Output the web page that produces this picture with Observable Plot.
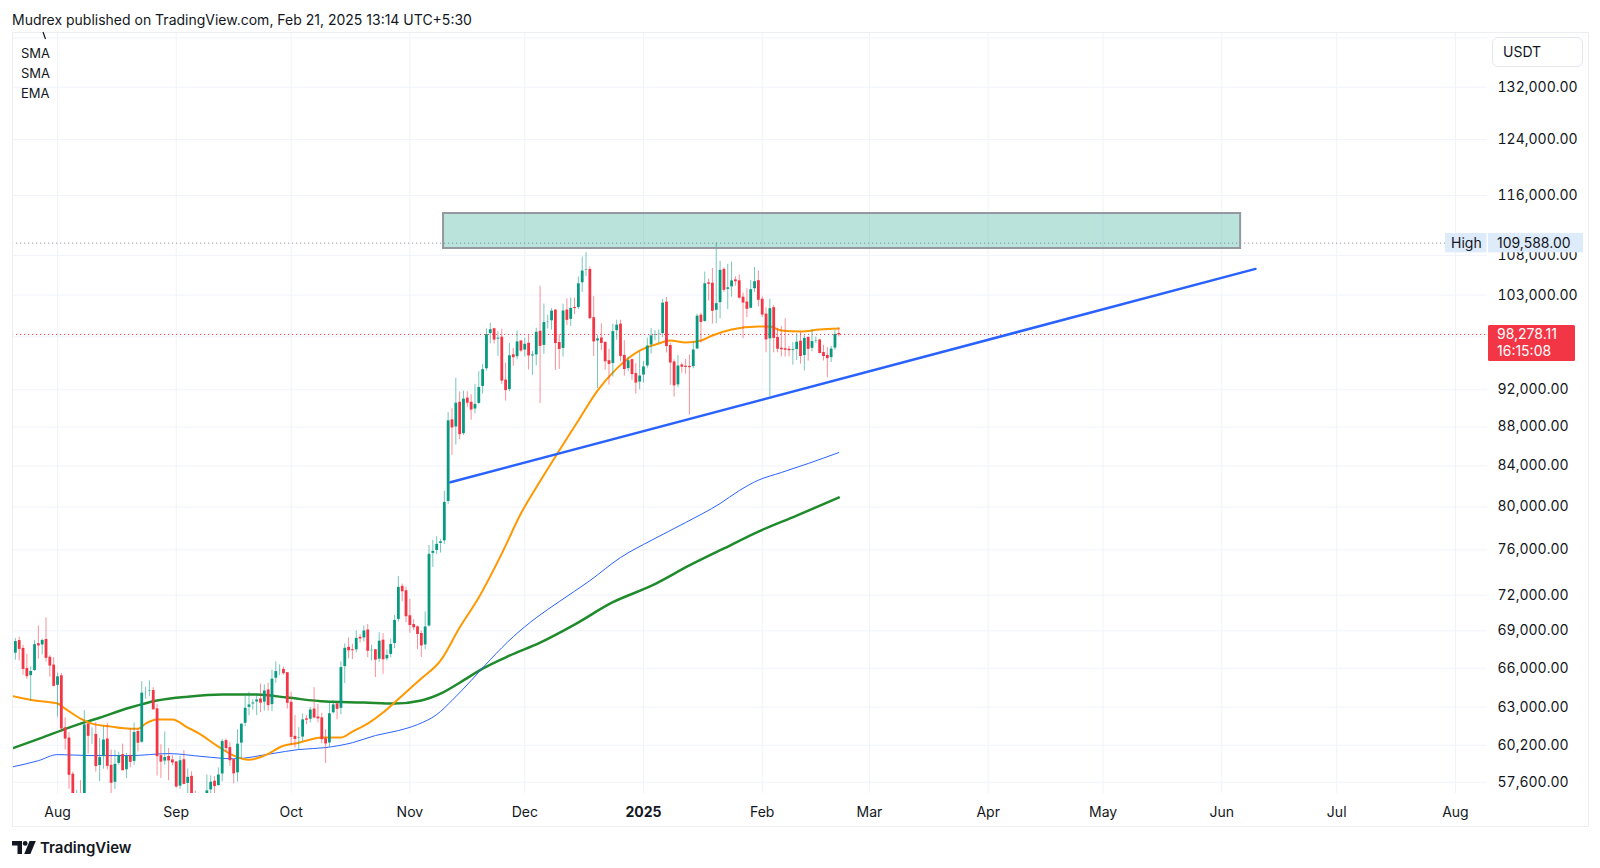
<!DOCTYPE html>
<html><head><meta charset="utf-8">
<script src="https://cdn.jsdelivr.net/npm/d3@7"></script>
<script src="https://cdn.jsdelivr.net/npm/@observablehq/plot@0.6"></script>
<style>
html,body{margin:0;padding:0;background:#fff}
body{width:1600px;height:868px;position:relative;overflow:hidden;font-family:Inter,"Noto Sans",sans-serif;color:#131722}
#title{position:absolute;left:12px;top:11px;font-size:14px;line-height:18px;white-space:nowrap}
#frame{position:absolute;left:12px;top:32px;width:1577px;height:795px;box-sizing:border-box;border:1px solid #eceef2;pointer-events:none}
#chart{position:absolute;left:0;top:32px}
#legend{position:absolute;left:21px;top:43px;font-size:13px;line-height:20px}
#usdt{position:absolute;left:1492px;top:37px;width:91px;height:30px;box-sizing:border-box;border:1px solid #e3e6ec;border-radius:6px;background:#fff;font-size:14px;line-height:28px;padding-left:10px}
#footer{position:absolute;left:12px;top:838px;height:18px;display:flex;align-items:center;gap:4px;font-size:15px;font-weight:600;color:#131722}
#mark{position:absolute;left:40px;top:31px}
</style></head>
<body>
<div id="title">Mudrex published on TradingView.com, Feb 21, 2025 13:14 UTC+5:30</div>
<div id="chart"></div>
<div id="frame"></div>
<svg id="mark" width="10" height="10"><line x1="3" y1="1" x2="5.5" y2="8" stroke="#131722" stroke-width="1.2"/></svg>
<div id="legend"><div>SMA</div><div>SMA</div><div>EMA</div></div>
<div id="usdt">USDT</div>
<div id="footer"><svg width="24" height="13" viewBox="0 0 24 13"><path d="M0 0h10v13H5.5V4.5H0z" fill="#131722"/><circle cx="13.2" cy="2.4" r="2.4" fill="#131722"/><path d="M17.6 0h6.2l-5.4 13h-6.2z" fill="#131722"/></svg><span>TradingView</span></div>
<script>
// ---- Daily candles, 2024-07-20 .. 2025-02-21 (BTC/USDT) ----
const firstDay = "2024-07-20", lastDay = "2025-02-21";
const open = [
/*Jul*/66660,67150,68165,67532,65936,65372,65777,67912,67813,68255,66819,66201,
/*Aug*/64620,65357,61415,60680,58116,53991,56030,55027,61710,60880,60945,58719,59354,60609,58737,57560,58874,59491,58427,59438,59013,61156,60381,64094,64178,64220,62834,59415,59034,59359,59119,
/*Sep*/58973,57301,59132,57487,57970,56160,53962,54160,54869,57042,57635,57338,58132,60498,59993,59132,58213,60313,61759,62947,63201,63348,63578,63339,64262,63152,65173,65769,65858,65602,
/*Oct*/63327,60805,60649,60752,62086,62058,62819,62224,62160,60636,60326,62540,63206,62870,66083,67620,67421,67420,68428,68380,69032,67378,67426,66668,68198,66698,67047,67930,69907,72720,72339,
/*Nov*/70215,69482,69289,68741,67811,69360,75640,75904,76545,76778,80474,88701,87955,90585,87250,91032,90587,89855,90464,92310,94286,98317,98892,97672,97900,93010,91965,95863,95643,97460,
/*Dec*/96407,97185,95840,95849,98587,96945,99740,99831,101109,97276,96593,101125,100005,101424,101420,104463,106058,106133,100204,97461,97805,97291,95186,94881,98663,99430,95791,94299,95301,93738,92792,
/*Jan*/93576,94591,96984,98174,98236,98314,102078,96922,95043,92484,94701,94566,94545,94516,96534,100504,99756,104462,104409,101089,102016,106146,103653,103960,104820,104714,102683,102087,101333,103733,104722,
/*Feb*/102429,100635,97700,101406,97871,96616,96555,96500,96444,96462,97430,95778,97870,96608,97500,97570,96118,95780,95539,96635,98333];
const high = [
/*Jul*/67600,68380,68480,67815,67100,66110,68200,69400,68320,70080,66990,66830,
/*Aug*/65600,65590,62200,61100,58300,57040,57720,62745,61750,61470,61850,60680,61570,61800,59850,59820,59700,60280,59620,61400,61820,61400,64950,64520,65000,64480,63210,60230,61160,59960,59450,
/*Sep*/59050,59420,59810,58520,58330,56990,54850,55320,58090,58040,57990,58590,60620,60660,60380,59210,61320,61790,63850,64130,63560,64000,64750,64690,64820,65840,66500,66260,66080,65620,
/*Oct*/64130,62380,61470,62480,62370,62970,64480,63200,62540,61320,63420,63480,63290,66500,67950,68420,67900,68990,68690,69400,69520,67840,67470,68850,68770,67450,68330,70270,73620,72960,72700,
/*Nov*/71630,69930,69400,69000,70580,76400,76850,77200,76930,81500,89530,89940,93265,91760,91850,91780,91450,92600,94000,94830,98920,99590,99000,98600,98870,94970,97210,96650,98690,97500,
/*Dec*/97840,98150,96300,99000,104088,101900,100550,101350,101215,98270,101890,102540,102650,102650,105250,107790,108353,106530,102800,98150,99540,97400,96540,99500,99960,99960,97540,95680,95450,94900,96250,
/*Jan*/95150,97840,98980,98730,98810,102480,102720,97260,95350,95840,94980,95380,95900,97370,100680,100780,105860,104990,106330,109588,107240,106400,106850,107120,105290,105500,103220,103780,104800,106460,106020,
/*Feb*/102780,101450,102500,101750,99000,99200,100140,96880,97320,98340,98480,98120,98000,98830,97970,97730,97000,96750,96900,98780,99050];
const low = [
/*Jul*/66220,66630,66575,65440,65120,63450,65750,66700,67060,66480,65300,64530,
/*Aug*/62250,61100,59850,57120,49000,53950,54560,54730,59570,60260,58290,57640,58500,58440,56080,57100,58790,58420,57850,58600,58780,59720,60340,63600,63780,62780,58030,57860,58780,57700,58740,
/*Sep*/57200,57120,57420,55600,55640,52550,53740,53630,54590,56390,55550,57320,57630,59700,58700,57490,57610,59170,61560,62350,62760,62360,62580,62700,62700,62670,64820,65420,65440,62860,
/*Oct*/60170,60000,59830,60460,61690,61810,62130,61830,60300,58900,60070,62480,62050,62420,64800,66750,66680,67200,68020,68100,66830,66570,65260,66460,65520,66580,66810,67560,69730,71440,69680,
/*Nov*/68800,69030,67480,66840,67460,69300,74420,75560,75720,76490,80220,85070,86130,86670,87120,90060,88720,89380,90380,91530,94080,97180,97160,95750,92600,90770,91780,94610,95360,96160,
/*Dec*/95690,94200,93580,94660,90500,95980,98930,98780,94150,94260,95660,99310,99210,100630,101230,103330,105320,100000,95700,92130,96400,94200,92520,93400,97600,95140,93500,94010,93050,91530,92000,
/*Jan*/92740,94400,96020,97530,97230,97920,96130,92500,91200,92200,93830,93710,89260,94330,96500,97270,99710,102280,99500,99550,100120,103330,101230,102750,104100,102520,97780,100270,101320,103320,101560,
/*Feb*/100280,96150,91230,96150,96150,95680,95650,95690,94750,95260,94850,94090,95200,96250,97220,96050,95210,93340,95040,96410,98000];
const close = [
/*Jul*/67150,68165,67532,65936,65372,65777,67912,67813,68255,66819,66201,64620,
/*Aug*/65357,61415,60680,58116,53991,56030,55027,61710,60880,60945,58719,59354,60609,58737,57560,58874,59491,58427,59438,59013,61156,60381,64094,64178,64220,62834,59415,59034,59359,59119,58973,
/*Sep*/57301,59132,57487,57970,56160,53962,54160,54869,57042,57635,57338,58132,60498,59993,59132,58213,60313,61759,62947,63201,63348,63578,63339,64262,63152,65173,65769,65858,65602,63327,
/*Oct*/60805,60649,60752,62086,62058,62819,62224,62160,60636,60326,62540,63206,62870,66083,67620,67421,67420,68428,68380,69032,67378,67426,66668,68198,66698,67047,67930,69907,72720,72339,70215,
/*Nov*/69482,69289,68741,67811,69360,75640,75904,76545,76778,80474,88701,87955,90585,87250,91032,90587,89855,90464,92310,94286,98317,98892,97672,97900,93010,91965,95863,95643,97460,96407,
/*Dec*/97185,95840,95849,98587,96945,99740,99831,101109,97276,96593,101125,100005,101424,101420,104463,106058,106133,100204,97461,97805,97291,95186,94881,98663,99430,95791,94299,95301,93738,92792,93576,
/*Jan*/94591,96984,98174,98236,98314,102078,96922,95043,92484,94701,94566,94545,94516,96534,100504,99756,104462,104409,101089,102016,106146,103653,103960,104820,104714,102683,102087,101333,103733,104722,102429,
/*Feb*/100635,97700,101406,97871,96616,96555,96500,96444,96462,97430,95778,97870,96608,97500,97570,96118,95780,95539,96635,98333,98278];

// ---- Moving averages ----
const emaDates = ["2024-07-20","2024-07-26","2024-08-01","2024-08-03","2024-08-07","2024-08-10","2024-08-15","2024-08-20","2024-08-22","2024-08-24","2024-08-27","2024-08-31","2024-09-04","2024-09-07","2024-09-12","2024-09-16","2024-09-20","2024-09-24","2024-09-29","2024-10-03","2024-10-09","2024-10-14","2024-10-17","2024-10-21","2024-10-25","2024-10-28","2024-11-01","2024-11-04","2024-11-09","2024-11-14","2024-11-19","2024-11-25","2024-11-30","2024-12-04","2024-12-10","2024-12-15","2024-12-20","2024-12-25","2024-12-31","2025-01-05","2025-01-08","2025-01-12","2025-01-16","2025-01-19","2025-01-24","2025-01-31","2025-02-03","2025-02-06","2025-02-11","2025-02-16","2025-02-21"];
const emaValues = [63850,63500,63270,62890,62140,61770,61550,61400,61400,61770,62070,62070,61480,61040,60100,59460,59170,59460,60160,60380,60750,60750,61190,61770,62590,63350,64400,65180,66590,69270,71800,75660,79370,81870,85560,88680,91910,94350,96400,97220,97560,97330,97560,98150,98860,99210,99210,98740,98620,98860,98980];
const smaBlueDates = ["2024-07-20","2024-07-27","2024-08-01","2024-08-10","2024-08-20","2024-08-30","2024-09-08","2024-09-16","2024-09-26","2024-10-03","2024-10-10","2024-10-17","2024-10-23","2024-10-29","2024-11-03","2024-11-08","2024-11-12","2024-11-17","2024-11-22","2024-11-28","2024-12-04","2024-12-10","2024-12-18","2024-12-26","2025-01-03","2025-01-12","2025-01-21","2025-01-26","2025-01-31","2025-02-06","2025-02-13","2025-02-21"];
const smaBlueValues = [58650,59100,59530,59460,59460,59600,59390,59230,59600,59890,60030,60380,60900,61260,61700,62440,63500,65030,66670,68520,70090,71450,73260,75310,76860,78520,80320,81570,82590,83350,84250,85360];
const smaGreenDates = ["2024-07-20","2024-07-28","2024-08-04","2024-08-12","2024-08-20","2024-08-27","2024-09-04","2024-09-13","2024-09-22","2024-09-30","2024-10-10","2024-10-20","2024-10-28","2024-11-04","2024-11-09","2024-11-14","2024-11-20","2024-11-27","2024-12-05","2024-12-14","2024-12-24","2025-01-03","2025-01-13","2025-01-22","2025-01-31","2025-02-10","2025-02-21"];
const smaGreenValues = [59950,60750,61480,62210,62970,63500,63790,63950,63950,63720,63420,63350,63270,63500,64020,64860,65960,66990,68040,69520,71400,72800,74600,76130,77680,79170,80900];

// ---- Drawings ----
const trendDates = ["2024-11-11T14:00Z","2025-06-09T19:00Z"];
const trendValues = [82380, 106270];
const zoneDates = ["2024-11-09T19:00Z","2025-06-05T22:00Z"];
const zoneValues = [108890, 113530];
const allTimeHigh = 109588;
const lastPrice = 98278.11;
const countdown = "16:15:08";

// ---- Axes ----
const priceTicks = [57600,60200,63000,66000,69000,72000,76000,80000,84000,88000,92000,103000,108000,116000,124000,132000];
const gridOnlyTicks = [98000, 140000];
const monthTicks = ["2024-08-01","2024-09-01","2024-10-01","2024-11-01","2024-12-01","2025-01-01","2025-02-01","2025-03-01","2025-04-01","2025-05-01","2025-06-01","2025-07-01","2025-08-01"];
const monthLabels = ["Aug","Sep","Oct","Nov","Dec","2025","Feb","Mar","Apr","May","Jun","Jul","Aug"];

// ---- build tables ----
const days = d3.utcDay.range(new Date(firstDay), d3.utcDay.offset(new Date(lastDay), 1));
const candles = days.map((d, i) => ({date: d, open: open[i], high: high[i], low: low[i], close: close[i]}));
const up = candles.filter(d => d.close >= d.open), down = candles.filter(d => d.close < d.open);
const pairs = (ds, vs) => ds.map((d, i) => ({date: new Date(d), value: vs[i]}));
const ema = pairs(emaDates, emaValues), smaBlue = pairs(smaBlueDates, smaBlueValues), smaGreen = pairs(smaGreenDates, smaGreenValues);
const trend = pairs(trendDates, trendValues);
const zone = [{x1: new Date(zoneDates[0]), x2: new Date(zoneDates[1]), y1: zoneValues[0], y2: zoneValues[1]}];
const months = monthTicks.map((d, i) => ({date: new Date(d), label: monthLabels[i]}));

const G = "#089981", R = "#f23645", GRID = "#f0f3fa";
const fmt = v => v.toLocaleString("en-US", {minimumFractionDigits: 2, maximumFractionDigits: 2});

const chart = Plot.plot({
  width: 1600, height: 796,
  marginLeft: 12, marginRight: 113, marginTop: 0, marginBottom: 35,
  style: {fontFamily: "Inter, 'Noto Sans', sans-serif", fontSize: "13px", color: "#131722", background: "transparent"},
  x: {type: "utc", domain: [new Date("2024-07-20T06:00Z"), new Date("2025-08-09T09:00Z")], axis: null},
  y: {type: "log", domain: [56830, 140900], axis: null},
  marks: [
    Plot.gridY(priceTicks.concat(gridOnlyTicks), {stroke: GRID, strokeOpacity: 1}),
    Plot.gridX(months.map(d => d.date), {stroke: GRID, strokeOpacity: 1}),
    Plot.ruleY([allTimeHigh], {stroke: "#9598a1", strokeDasharray: "1.2,2.8", strokeWidth: 1}),
    Plot.ruleY([lastPrice], {stroke: R, strokeDasharray: "1.2,2.8", strokeWidth: 1}),
    Plot.line(smaGreen, {x: "date", y: "value", stroke: "#1f8b2c", strokeWidth: 2.5, curve: "monotone-x", clip: true}),
    Plot.line(smaBlue, {x: "date", y: "value", stroke: "#2962ff", strokeWidth: 1, curve: "monotone-x", clip: true}),
    Plot.line(ema, {x: "date", y: "value", stroke: "#ff9800", strokeWidth: 2, curve: "monotone-x", clip: true}),
    Plot.ruleX(up, {x: "date", y1: "low", y2: "high", stroke: G, strokeOpacity: 0.55, strokeWidth: 1, clip: true}),
    Plot.ruleX(down, {x: "date", y1: "low", y2: "high", stroke: R, strokeOpacity: 0.55, strokeWidth: 1, clip: true}),
    Plot.ruleX(up, {x: "date", y1: "open", y2: "close", stroke: G, strokeWidth: 2.8, insetTop: -0.5, insetBottom: -0.5, clip: true}),
    Plot.ruleX(down, {x: "date", y1: "open", y2: "close", stroke: R, strokeWidth: 2.8, insetTop: -0.5, insetBottom: -0.5, clip: true}),
    Plot.rect(zone, {x1: "x1", x2: "x2", y1: "y1", y2: "y2", fill: G, fillOpacity: 0.28, stroke: "#9598a1", strokeWidth: 2}),
    Plot.line(trend, {x: "date", y: "value", stroke: "#2962ff", strokeWidth: 2.5}),
    Plot.axisY(priceTicks, {anchor: "right", tickSize: 0, tickPadding: 10, tickFormat: fmt, fontSize: 14, label: null}),
    Plot.text(months.filter(d => d.label !== "2025"), {x: "date", text: "label", frameAnchor: "bottom", dy: 23, fontSize: 14}),
    Plot.text(months.filter(d => d.label === "2025"), {x: "date", text: "label", frameAnchor: "bottom", dy: 23, fontSize: 14, fontWeight: 700})
  ]
});
document.getElementById("chart").appendChild(chart);

// price-scale labels (High, last price) placed with the plot's own y scale
const yS = chart.scale("y");
const svg = d3.select(chart);
const gH = svg.append("g").attr("text-anchor", "start").attr("font-size", 14);
const yh = yS.apply(allTimeHigh);
gH.append("rect").attr("x", 1445).attr("y", yh - 9.7).attr("width", 41.5).attr("height", 19.4).attr("fill", "#deebfb");
gH.append("rect").attr("x", 1488).attr("y", yh - 9.7).attr("width", 95).attr("height", 19.4).attr("fill", "#deebfb");
gH.append("text").attr("x", 1451).attr("y", yh).attr("dy", "0.35em").attr("fill", "#131722").text("High");
gH.append("text").attr("x", 1497).attr("y", yh).attr("dy", "0.35em").attr("fill", "#131722").text(fmt(allTimeHigh));
const yp = yS.apply(lastPrice);
const gP = svg.append("g").attr("text-anchor", "start").attr("font-size", 14);
gP.append("rect").attr("x", 1488).attr("y", yp - 9).attr("width", 87).attr("height", 36).attr("rx", 1.5).attr("fill", R);
gP.append("text").attr("x", 1497).attr("y", yp).attr("dy", "0.35em").attr("fill", "#fff").text(fmt(lastPrice));
gP.append("text").attr("x", 1497).attr("y", yp + 17).attr("dy", "0.35em").attr("fill", "#fff").text(countdown);
</script>
</body></html>
